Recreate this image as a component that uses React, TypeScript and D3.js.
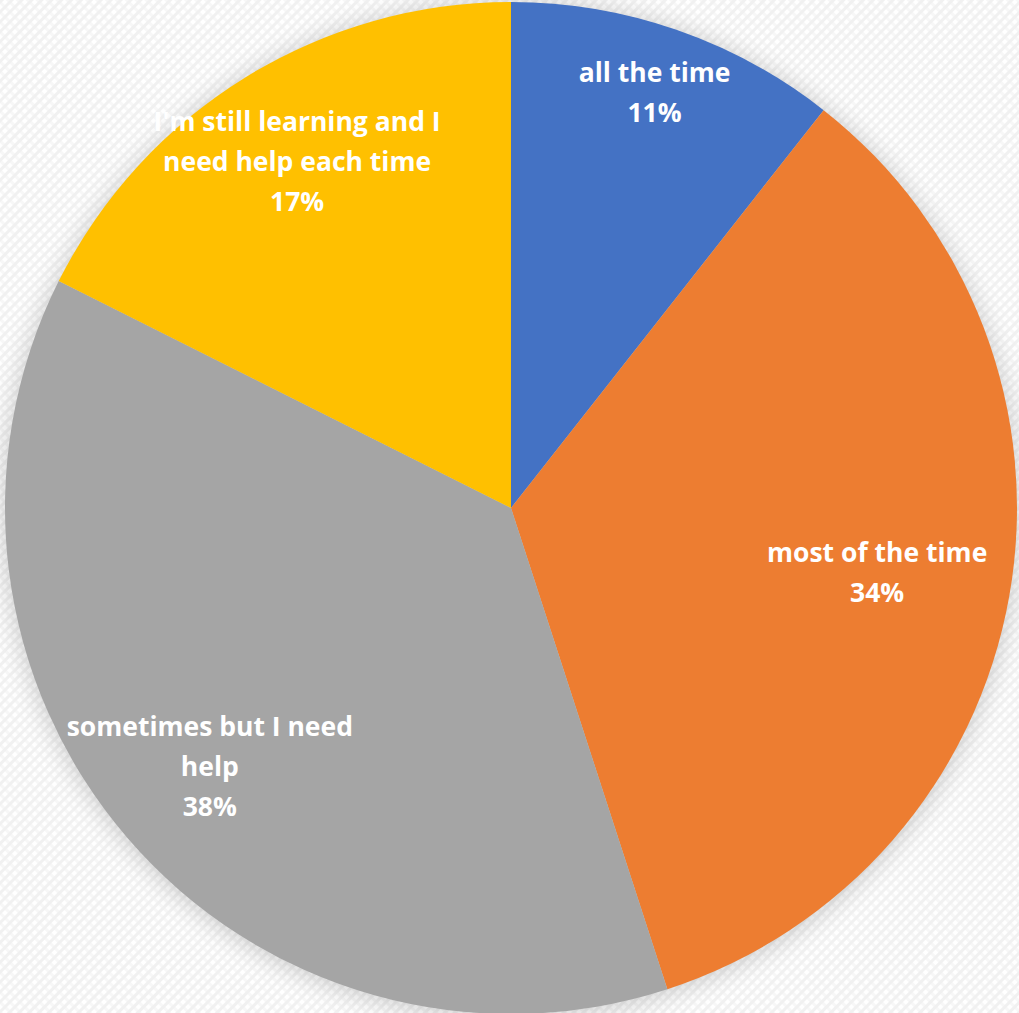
import React, { useMemo } from "react";
import * as d3 from "d3";

const categories = [
  "all the time",
  "most of the time",
  "sometimes but I need help",
  "I'm still learning and I need help each time",
];
const shares = [10.6, 34.4, 37.4, 17.6];
const percentLabels = ["11%", "34%", "38%", "17%"];
const colors = ["#4472C4", "#ED7D31", "#A5A5A5", "#FFC000"];

const W = 1019;
const H = 1013;
const CX = 511;
const CY = 508;
const R = 506;
const FONT = "bold 26.5px 'Open Sans', Lato, sans-serif";
const LINE_H = 40;
const WRAP_W = 310;
const labelRadiusFrac = [0.868, 0.735, 0.785, 0.805];

function wrap(text: string): string[] {
  const canvas = document.createElement("canvas");
  const ctx = canvas.getContext("2d")!;
  ctx.font = FONT;
  const words = text.split(" ");
  const lines: string[] = [];
  let cur = "";
  for (const w of words) {
    const t = cur ? cur + " " + w : w;
    if (ctx.measureText(t).width > WRAP_W && cur) {
      lines.push(cur);
      cur = w;
    } else cur = t;
  }
  if (cur) lines.push(cur);
  return lines;
}

export default function App() {
  const arcs = useMemo(
    () => d3.pie<number>().sort(null).value((d) => d)(shares),
    []
  );
  const arcGen = d3.arc<d3.PieArcDatum<number>>().innerRadius(0).outerRadius(R);

  return (
    <svg
      width={W}
      height={H}
      style={{ position: "absolute", left: 0, top: 0, display: "block" }}
    >
      <defs>
        <pattern
          id="carbon"
          width="7"
          height="7"
          patternUnits="userSpaceOnUse"
          patternTransform="rotate(45)"
        >
          <rect width="7" height="7" fill="#ffffff" />
          <rect width="3" height="7" fill="#f1f1f1" />
          <rect x="3" y="0" width="4" height="3" fill="#f7f7f7" />
        </pattern>
        <filter id="glow" x="-20%" y="-20%" width="140%" height="140%">
          <feGaussianBlur stdDeviation="12" />
        </filter>
      </defs>
      <rect width={W} height={H} fill="url(#carbon)" />
      <circle cx={CX} cy={CY + 2} r={R + 2} fill="#000" opacity={0.18} filter="url(#glow)" />
      <g transform={`translate(${CX},${CY})`}>
        {arcs.map((a, i) => (
          <path key={i} d={arcGen(a) || ""} fill={colors[i]} />
        ))}
        {arcs.map((a, i) => {
          const lr = R * labelRadiusFrac[i];
          const c = d3
            .arc<d3.PieArcDatum<number>>()
            .innerRadius(lr)
            .outerRadius(lr)
            .centroid(a);
          const lines = [...wrap(categories[i]), percentLabels[i]];
          const y0 = c[1] - ((lines.length - 1) * LINE_H) / 2;
          return (
            <text
              key={"t" + i}
              x={c[0]}
              textAnchor="middle"
              fill="#ffffff"
              style={{ font: FONT }}
            >
              {lines.map((l, j) => (
                <tspan key={j} x={c[0]} y={y0 + j * LINE_H} dy="0.35em">
                  {l}
                </tspan>
              ))}
            </text>
          );
        })}
      </g>
    </svg>
  );
}
